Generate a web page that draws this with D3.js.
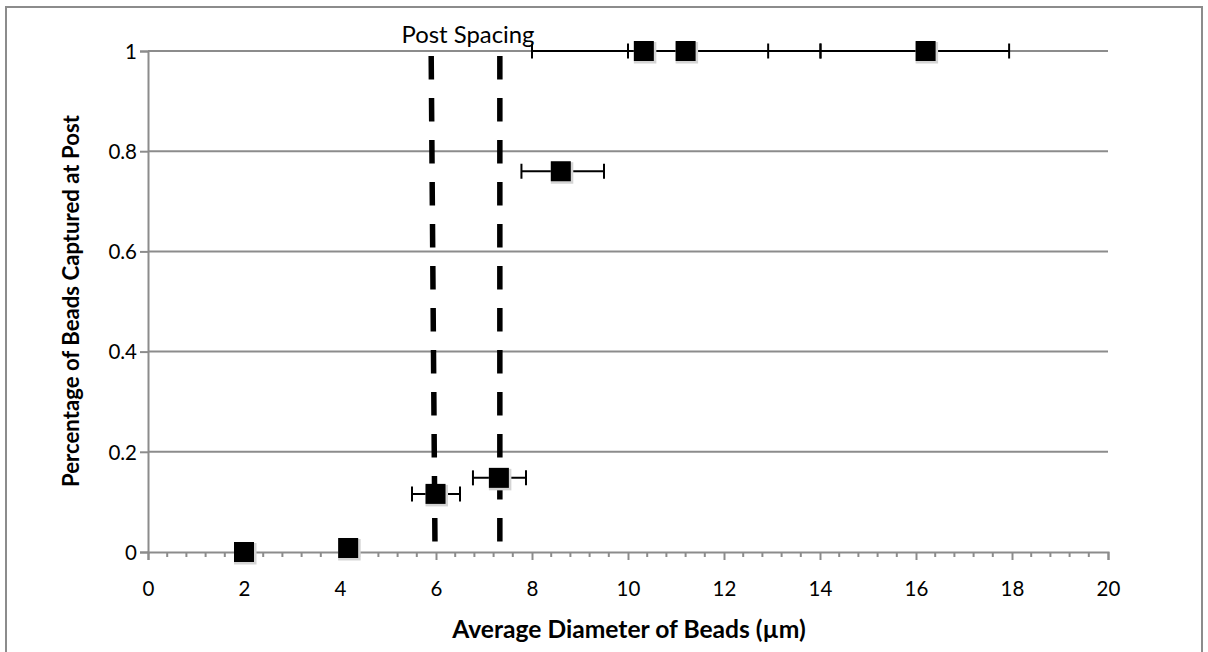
<!DOCTYPE html>
<html>
<head>
<meta charset="utf-8">
<script src="https://cdn.jsdelivr.net/npm/d3@7"></script>
<style>
  html, body { margin: 0; padding: 0; background: #ffffff; }
  svg { display: block; }
  text { font-family: Lato, "Open Sans", sans-serif; fill: #000; }
</style>
</head>
<body>
<svg id="chart" width="1208" height="652"></svg>
<script>
// ---- data ----
const beadDiameter = [2.0, 4.17, 5.99, 7.31, 8.6, 10.33, 11.2, 16.2];
const captureFraction = [0.0, 0.008, 0.116, 0.148, 0.76, 1.0, 1.0, 1.0];
const errLow  = [1.85, 4.17, 5.5, 6.77, 7.78, 10.0, 8.0, 14.01];
const errHigh = [2.15, 4.17, 6.5, 7.875, 9.5, 12.92, 14.01, 17.94];

const postSpacingTopX = [5.9, 7.33];
const postSpacingBottomX = [5.98, 7.33];
const postSpacingLabel = "Post Spacing";

const xTicks = [0, 2, 4, 6, 8, 10, 12, 14, 16, 18, 20];
const yTicks = [0, 0.2, 0.4, 0.6, 0.8, 1];
const xTitle = "Average Diameter of Beads (µm)";
const yTitle = "Percentage of Beads Captured at Post";

// ---- layout ----
const svg = d3.select("#chart");
const x = d3.scaleLinear().domain([0, 20]).range([148, 1108]);
const y = d3.scaleLinear().domain([0, 1]).range([552, 51]);
const gridColor = "#8c8c8c";
const tickFont = 20.5;

// outer frame
svg.append("rect").attr("x", 6).attr("y", 7).attr("width", 1196).attr("height", 700)
  .attr("fill", "#fff").attr("stroke", gridColor).attr("stroke-width", 2);

// horizontal gridlines
svg.append("g").selectAll("line").data(yTicks.filter(d => d > 0)).join("line")
  .attr("x1", x(0)).attr("x2", x(20))
  .attr("y1", d => y(d)).attr("y2", d => y(d))
  .attr("stroke", gridColor).attr("stroke-width", 2);

// y axis
const yAxis = d3.axisLeft(y).tickValues(yTicks).tickSize(8).tickPadding(4)
  .tickFormat(d => d3.format("")(d));
const gy = svg.append("g").attr("transform", `translate(${x(0)},0)`).call(yAxis);
gy.attr("font-size", tickFont).attr("font-family", "Lato, sans-serif");
gy.select(".domain").attr("stroke", gridColor).attr("stroke-width", 2);
gy.selectAll(".tick line").attr("stroke", gridColor).attr("stroke-width", 2);
gy.selectAll(".tick text").attr("x", -11).attr("dy", "0.36em")
  .attr("font-size", tickFont);

// x axis minor ticks
const minorTicks = d3.range(0, 20.001, 0.4).filter(v => Math.abs(v / 2 - Math.round(v / 2)) > 1e-6);
svg.append("g").selectAll("line").data(minorTicks).join("line")
  .attr("x1", d => x(d)).attr("x2", d => x(d))
  .attr("y1", y(0)).attr("y2", y(0) + 5)
  .attr("stroke", gridColor).attr("stroke-width", 2);

// x axis
const xAxis = d3.axisBottom(x).tickValues(xTicks).tickSize(8).tickPadding(14)
  .tickFormat(d3.format("d"));
const gx = svg.append("g").attr("transform", `translate(0,${y(0)})`).call(xAxis);
gx.attr("font-size", tickFont).attr("font-family", "Lato, sans-serif");
gx.select(".domain").attr("stroke", gridColor).attr("stroke-width", 2);
gx.selectAll(".tick line").attr("stroke", gridColor).attr("stroke-width", 2);
gx.selectAll(".tick text").attr("y", 44).attr("dy", 0).attr("font-size", tickFont);

// post spacing dashed lines
svg.append("g").selectAll("line").data(d3.range(postSpacingTopX.length)).join("line")
  .attr("x1", i => x(postSpacingTopX[i])).attr("x2", i => x(postSpacingBottomX[i]))
  .attr("y1", y(0.99)).attr("y2", y(0))
  .attr("stroke", "#000").attr("stroke-width", 5.5)
  .attr("stroke-dasharray", "23.5,18.5");

// error bars
const eb = svg.append("g");
const idx = d3.range(beadDiameter.length);
eb.selectAll("line.bar").data(idx).join("line").attr("class", "bar")
  .attr("x1", i => x(errLow[i])).attr("x2", i => x(errHigh[i]))
  .attr("y1", i => y(captureFraction[i])).attr("y2", i => y(captureFraction[i]))
  .attr("stroke", "#000").attr("stroke-width", 2);
eb.selectAll("line.capL").data(idx).join("line").attr("class", "capL")
  .attr("x1", i => x(errLow[i])).attr("x2", i => x(errLow[i]))
  .attr("y1", i => y(captureFraction[i]) - 7.5).attr("y2", i => y(captureFraction[i]) + 7.5)
  .attr("stroke", "#000").attr("stroke-width", 2);
eb.selectAll("line.capH").data(idx).join("line").attr("class", "capH")
  .attr("x1", i => x(errHigh[i])).attr("x2", i => x(errHigh[i]))
  .attr("y1", i => y(captureFraction[i]) - 7.5).attr("y2", i => y(captureFraction[i]) + 7.5)
  .attr("stroke", "#000").attr("stroke-width", 2);

// markers (with soft shadow)
const mk = svg.append("g");
mk.selectAll("rect.shadow").data(idx).join("rect").attr("class", "shadow")
  .attr("x", i => x(beadDiameter[i]) - 10).attr("y", i => y(captureFraction[i]) - 9)
  .attr("width", 22.5).attr("height", 21.5).attr("fill", "#d4d4d4");
mk.selectAll("rect.mark").data(idx).join("rect").attr("class", "mark")
  .attr("x", i => x(beadDiameter[i]) - 10).attr("y", i => y(captureFraction[i]) - 10)
  .attr("width", 20).attr("height", 20).attr("fill", "#000");

// helper: fit text to a measured width
function fit(sel, target, base) {
  sel.attr("font-size", base);
  const w = sel.node().getComputedTextLength();
  sel.attr("font-size", base * target / w);
}

// annotation
const ann = svg.append("text").attr("x", 468).attr("y", 43)
  .attr("text-anchor", "middle").text(postSpacingLabel);
fit(ann, 133, 18);

// axis titles
const xt = svg.append("text").attr("x", 629).attr("y", 638)
  .attr("text-anchor", "middle").attr("font-weight", "bold").text(xTitle);
fit(xt, 354, 18);
const yt = svg.append("text").attr("transform", "translate(79,301) rotate(-90)")
  .attr("text-anchor", "middle").attr("font-weight", "bold").text(yTitle);
fit(yt, 372, 18);
</script>
</body>
</html>
